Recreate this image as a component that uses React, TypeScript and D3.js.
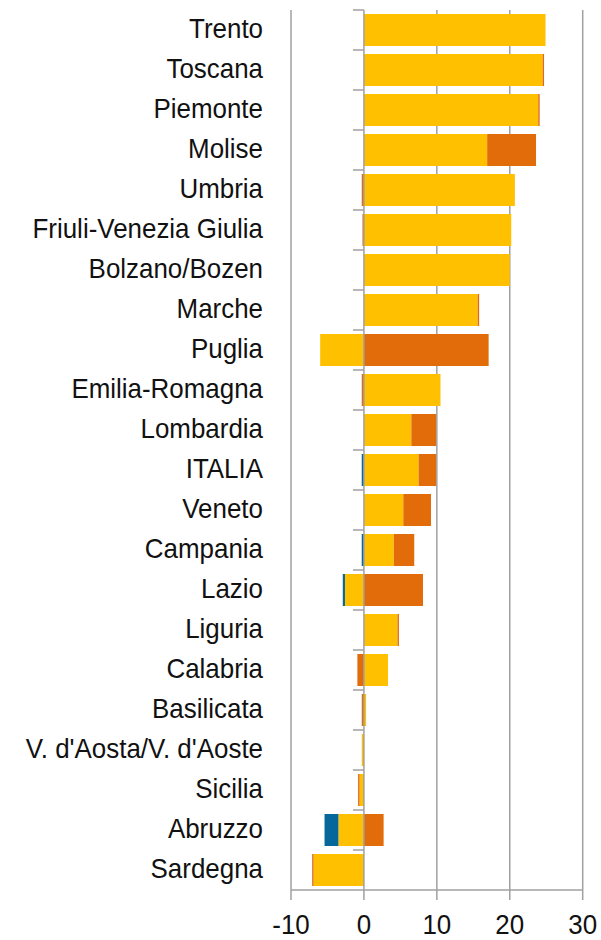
import React from "react";
import * as d3 from "d3";

const categories = [
  "Trento", "Toscana", "Piemonte", "Molise", "Umbria", "Friuli-Venezia Giulia",
  "Bolzano/Bozen", "Marche", "Puglia", "Emilia-Romagna", "Lombardia", "ITALIA",
  "Veneto", "Campania", "Lazio", "Liguria", "Calabria", "Basilicata",
  "V. d'Aosta/V. d'Aoste", "Sicilia", "Abruzzo", "Sardegna",
];
const yellowValues = [24.9, 24.5, 23.9, 16.9, 20.7, 20.2, 20.0, 15.6, -6.0, 10.5, 6.5, 7.5, 5.4, 4.1, -2.6, 4.6, 3.3, 0.3, -0.3, -0.6, -3.5, -6.9];
const orangeValues = [0, 0.2, 0.2, 6.7, -0.3, -0.2, 0, 0.2, 17.1, -0.3, 3.4, 2.4, 3.8, 2.8, 8.1, 0.2, -0.9, -0.3, 0, -0.2, 2.7, -0.2];
const blueValues = [0, 0, 0, 0, 0, 0, 0, 0, 0, 0, 0, -0.3, 0, -0.3, -0.3, 0, 0, 0, 0, 0, -1.9, 0];
const xTicks = [-10, 0, 10, 20, 30];

const seriesKeys = ["yellow", "orange", "blue"];
const seriesColors: Record<string, string> = { yellow: "#FFC000", orange: "#E36C0A", blue: "#05679A" };

const FONT = "'Liberation Sans', Arial, sans-serif";
const FS = 28.5;
const SX = 0.91;

export default function App() {
  const left = 291, right = 582.7, top = 10, bottom = 890;
  const x = d3.scaleLinear().domain([-10, 30]).range([left, right]);
  const y = d3.scaleBand<string>().domain(categories).range([top, bottom]).paddingInner(0.2).paddingOuter(0.1);

  const rows = categories.map((c, i) => ({ cat: c, yellow: yellowValues[i], orange: orangeValues[i], blue: blueValues[i] }));
  const stacked = d3.stack<any>().keys(seriesKeys).offset(d3.stackOffsetDiverging)(rows);

  const gap = (y.step() - y.bandwidth()) / 2;
  const boundaries = categories.map((c) => (y(c) as number) - gap);
  const grid = "#A0A0A0";

  return (
    <svg width={601} height={940} style={{ position: "absolute", left: 0, top: 0 }}>
      {/* gridlines */}
      {xTicks.filter((t) => t !== 0).map((t) => (
        <line key={"g" + t} x1={x(t)} x2={x(t)} y1={top} y2={bottom} stroke={grid} strokeWidth={1.5} />
      ))}
      {/* bars */}
      {stacked.map((s) => (
        <g key={s.key} fill={seriesColors[s.key]}>
          {s.map((d, i) => {
            const x0 = x(Math.min(d[0], d[1]));
            const x1 = x(Math.max(d[0], d[1]));
            if (x1 - x0 <= 0) return null;
            return <rect key={i} x={x0} y={y(categories[i])} width={x1 - x0} height={y.bandwidth()} />;
          })}
        </g>
      ))}
      {/* zero axis */}
      <line x1={x(0)} x2={x(0)} y1={top} y2={bottom} stroke={grid} strokeWidth={1.5} />
      {boundaries.map((b, i) => (
        <line key={"t" + i} x1={x(0) - 11} x2={x(0)} y1={b} y2={b} stroke={grid} strokeWidth={1.5} />
      ))}
      {/* bottom axis */}
      <line x1={left} x2={right} y1={bottom} y2={bottom} stroke={grid} strokeWidth={1.5} />
      {xTicks.map((t) => (
        <g key={"xt" + t}>
          <line x1={x(t)} x2={x(t)} y1={bottom} y2={bottom + 10} stroke={grid} strokeWidth={1.5} />
          <text
            transform={`translate(${x(t)},933.5) scale(${SX},1)`}
            textAnchor="middle"
            fontFamily={FONT}
            fontSize={FS}
            fill="#111"
          >
            {t}
          </text>
        </g>
      ))}
      {/* category labels */}
      {categories.map((c) => (
        <text
          key={"l" + c}
          transform={`translate(263,${(y(c) as number) + y.bandwidth() / 2 + 8}) scale(${SX},1)`}
          textAnchor="end"
          fontFamily={FONT}
          fontSize={FS}
          fill="#111"
        >
          {c}
        </text>
      ))}
    </svg>
  );
}
